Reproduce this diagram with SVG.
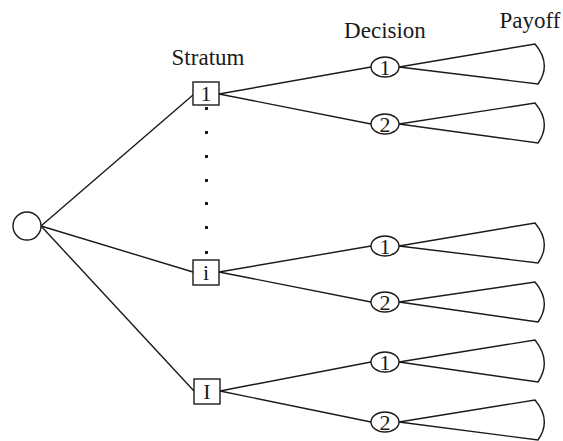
<svg xmlns="http://www.w3.org/2000/svg" width="563" height="441" viewBox="0 0 563 441">
<style>
.ln{stroke:#1a1a1a;stroke-width:1.4;fill:none}
.nd{stroke:#1a1a1a;stroke-width:1.4;fill:#fff}
.t{font-family:"Liberation Serif","Times New Roman",serif;fill:#1a1a1a;text-anchor:middle}
.lb{font-size:23px}
.nt{font-size:22px}
.dot{fill:#1a1a1a}
</style>
<rect width="563" height="441" fill="#fff"/>
<g id="connectors">
<line class="ln" x1="41" y1="226" x2="193" y2="95"/>
<line class="ln" x1="41" y1="226" x2="193" y2="272"/>
<line class="ln" x1="41" y1="226" x2="194" y2="391"/>
<line class="ln" x1="219" y1="94" x2="371" y2="67"/>
<line class="ln" x1="219" y1="94" x2="371" y2="124"/>
<line class="ln" x1="219" y1="272" x2="371" y2="246"/>
<line class="ln" x1="219" y1="272" x2="371" y2="302"/>
<line class="ln" x1="220" y1="391" x2="371" y2="362"/>
<line class="ln" x1="220" y1="391" x2="371" y2="422"/>
<path class="ln" d="M399 67 L535 44 Q552 64 538 84 Z"/>
<path class="ln" d="M399 124 L535 103 Q552 123 538 143 Z"/>
<path class="ln" d="M399 246 L535 223 Q552 243 538 263 Z"/>
<path class="ln" d="M399 302 L535 282 Q552 302 538 322 Z"/>
<path class="ln" d="M399 362 L535 340 Q552 361 538 382 Z"/>
<path class="ln" d="M399 422 L535 400 Q552 420 538 440 Z"/>
</g>
<g id="labels">
<text class="t lb" x="208" y="65">Stratum</text>
<text class="t lb" x="385" y="38">Decision</text>
<text class="t lb" x="530" y="28">Payoff</text>
</g>
<g id="root"><circle class="nd" cx="27" cy="226" r="14"/></g>
<g id="stratum-1"><rect class="nd" x="193" y="82" width="26" height="23"/><text class="t nt" x="206" y="101">1</text></g>
<g id="dots">
<rect class="dot" x="205" y="107" width="3" height="3"/>
<rect class="dot" x="205" y="131" width="3" height="3"/>
<rect class="dot" x="205" y="155" width="3" height="3"/>
<rect class="dot" x="205" y="179" width="3" height="3"/>
<rect class="dot" x="205" y="202" width="3" height="3"/>
<rect class="dot" x="205" y="226" width="3" height="3"/>
<rect class="dot" x="205" y="251" width="3" height="3"/>
</g>
<g id="stratum-i"><rect class="nd" x="193" y="260" width="26" height="25"/><text class="t nt" x="206" y="280">i</text></g>
<g id="stratum-I"><rect class="nd" x="194" y="379" width="26" height="25"/><text class="t nt" x="207" y="399">I</text></g>
<g id="d1-1"><ellipse class="nd" cx="385" cy="67" rx="14" ry="10"/><text class="t nt" x="385" y="74.5">1</text></g>
<g id="d1-2"><ellipse class="nd" cx="385" cy="124" rx="14" ry="10"/><text class="t nt" x="385" y="131.5">2</text></g>
<g id="di-1"><ellipse class="nd" cx="385" cy="246" rx="14" ry="10"/><text class="t nt" x="385" y="253.5">1</text></g>
<g id="di-2"><ellipse class="nd" cx="385" cy="302" rx="14" ry="10"/><text class="t nt" x="385" y="309.5">2</text></g>
<g id="dI-1"><ellipse class="nd" cx="385" cy="362" rx="14" ry="10"/><text class="t nt" x="385" y="369.5">1</text></g>
<g id="dI-2"><ellipse class="nd" cx="385" cy="422" rx="14" ry="10"/><text class="t nt" x="385" y="429.5">2</text></g>
</svg>
